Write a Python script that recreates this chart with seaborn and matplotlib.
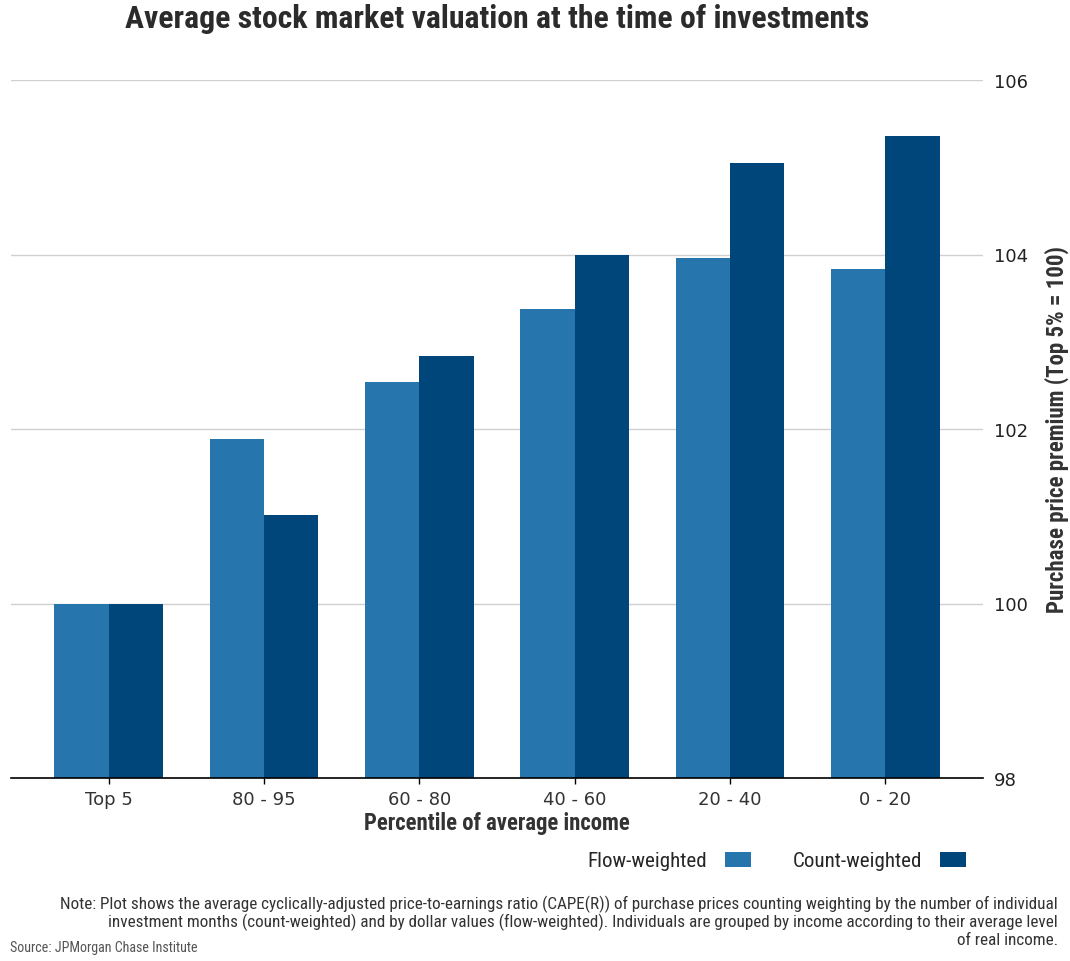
import matplotlib
matplotlib.use("Agg")
import matplotlib.pyplot as plt
import seaborn as sns
import pandas as pd
from matplotlib import font_manager as fm
from matplotlib.patches import Patch

# Data (layout mirrored as in the reference: categories read right-to-left)
categories = ["Top 5", "80 - 95", "60 - 80", "40 - 60", "20 - 40", "0 - 20"]
count_weighted = [100.0, 101.02, 102.84, 104.0, 105.05, 105.36]
flow_weighted = [100.0, 101.89, 102.54, 103.38, 103.96, 103.83]
series_names = ["Flow-weighted", "Count-weighted"]
y_ticks = [98, 100, 102, 104, 106]

title = "Average stock market valuation at the time of investments"
x_label = "Percentile of average income"
y_label = "Purchase price premium (Top 5% = 100)"
note_lines = [
    "Note: Plot shows the average cyclically-adjusted price-to-earnings ratio (CAPE(R)) of purchase prices counting weighting by the number of individual",
    "investment months (count-weighted) and by dollar values (flow-weighted). Individuals are grouped by income according to their average level",
    "of real income.",
]
source = "Source: JPMorgan Chase Institute"

df = pd.DataFrame({
    "category": categories * 2,
    "value": flow_weighted + count_weighted,
    "series": [series_names[0]] * len(categories) + [series_names[1]] * len(categories),
})

sns.set_theme(style="white")
names = {f.name for f in fm.fontManager.ttflist}
narrow = "DejaVu Sans"
for cand in ["Roboto Condensed", "Liberation Sans Narrow", "Archivo Narrow",
             "PT Sans Narrow", "Roboto"]:
    if cand in names:
        narrow = cand
        break
plt.rcParams["font.family"] = ["DejaVu Sans"]

W, H = 1070, 962
fig = plt.figure(figsize=(W / 100, H / 100), dpi=100)
ax = fig.add_axes([11 / W, 1 - 779 / H, (983 - 11) / W, (779 - 81) / H])

palette = {"Flow-weighted": "#2675ad", "Count-weighted": "#00467a"}
sns.barplot(data=df, x="category", y="value", hue="series", order=categories,
            hue_order=series_names, palette=palette, width=0.7, gap=0,
            saturation=1, ax=ax, legend=False, linewidth=0)

ax.set_ylim(98, 106)
ax.set_xlim(-0.63, 5.63)
ax.set_yticks(y_ticks)
ax.yaxis.tick_right()
ax.yaxis.set_label_position("right")
ax.grid(axis="y", color="#d0d0d0", linewidth=1)
ax.set_axisbelow(True)
for s in ["top", "left", "right"]:
    ax.spines[s].set_visible(False)
ax.spines["bottom"].set_color("black")
ax.spines["bottom"].set_linewidth(1.2)
ax.tick_params(axis="y", length=0, pad=8, labelsize=13, labelcolor="#222222")
ax.tick_params(axis="x", length=4, width=1, color="black", bottom=True, pad=5,
               labelsize=13, labelcolor="#333333")
ax.set_xlabel(x_label, fontsize=15, fontweight="bold", color="#333333",
              family=narrow, labelpad=2)
ax.set_ylabel(y_label, fontsize=15, fontweight="bold", color="#333333",
              family=narrow, labelpad=12)

renderer = fig.canvas.get_renderer()


def fit(t, target, dim="width"):
    bb = t.get_window_extent(renderer)
    cur = bb.width if dim == "width" else bb.height
    t.set_fontsize(t.get_fontsize() * target / cur)


fit(ax.xaxis.label, 267)
fit(ax.yaxis.label, 368, dim="height")

t_title = fig.text(497.5 / W, 1 - 19 / H, title, ha="center", va="center",
                   fontsize=21, fontweight="bold", color="#2b2b2b", family=narrow)
fit(t_title, 745)

note_y = [904, 922.5, 941]
note_texts = []
for line, y in zip(note_lines, note_y):
    note_texts.append(fig.text(1058 / W, 1 - y / H, line, ha="right", va="center",
                               fontsize=12, color="#333333", family=narrow))
fit(note_texts[0], 995)
for t in note_texts[1:]:
    t.set_fontsize(note_texts[0].get_fontsize())

t_src = fig.text(10 / W, 1 - 948 / H, source, ha="left", va="center", fontsize=10,
                 color="#555555", family=narrow)
fit(t_src, 187)

# legend font size fitted to the reference's label width
probe = fig.text(0, 0, "Count-weighted", fontsize=15, family=narrow)
fit(probe, 130)
leg_fs = probe.get_fontsize()
probe.remove()
fs_px = leg_fs * 100 / 72

handles = [Patch(color=palette[n], linewidth=0) for n in series_names]
fig.legend(handles, series_names, loc="center right",
           bbox_to_anchor=(966 / W, 1 - 862 / H), ncol=2, frameon=False,
           markerfirst=False, prop={"family": narrow, "size": leg_fs},
           handlelength=26 / fs_px, handleheight=15 / fs_px,
           columnspacing=42 / fs_px, handletextpad=18 / fs_px,
           borderpad=0, borderaxespad=0)

fig.savefig("out.png", dpi=100)
